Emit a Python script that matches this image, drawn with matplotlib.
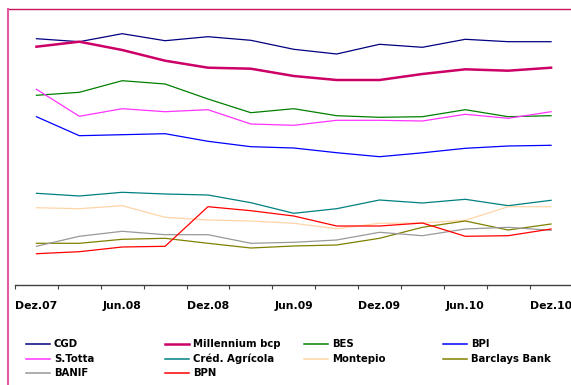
import matplotlib
matplotlib.use("Agg")
import matplotlib.pyplot as plt
from matplotlib.lines import Line2D

periods = ["Dez.07", "Mar.08", "Jun.08", "Set.08", "Dez.08", "Mar.09", "Jun.09",
           "Set.09", "Dez.09", "Mar.10", "Jun.10", "Set.10", "Dez.10"]

names = ["CGD", "Millennium bcp", "BES", "BPI",
         "S.Totta", "Créd. Agrícola", "Montepio", "Barclays Bank",
         "BANIF", "BPN"]

cgd        = [24.63, 24.33, 25.13, 24.43, 24.83, 24.47, 23.57, 23.10, 24.07, 23.77, 24.57, 24.33, 24.33]
millennium = [23.83, 24.33, 23.50, 22.43, 21.73, 21.63, 20.90, 20.50, 20.50, 21.10, 21.57, 21.43, 21.73]
bes        = [18.97, 19.27, 20.43, 20.10, 18.60, 17.23, 17.63, 16.93, 16.77, 16.83, 17.53, 16.83, 16.93]
bpi        = [16.83, 14.93, 15.03, 15.13, 14.37, 13.83, 13.70, 13.23, 12.83, 13.22, 13.67, 13.90, 13.97]
stotta     = [19.57, 16.87, 17.63, 17.33, 17.53, 16.10, 15.97, 16.47, 16.47, 16.40, 17.07, 16.67, 17.33]
credagr    = [9.17, 8.90, 9.27, 9.10, 9.00, 8.23, 7.17, 7.63, 8.50, 8.20, 8.57, 7.93, 8.47]
montepio   = [7.73, 7.63, 7.93, 6.77, 6.50, 6.40, 6.17, 5.63, 6.17, 6.20, 6.47, 7.83, 7.83]
barclays   = [4.17, 4.17, 4.57, 4.67, 4.17, 3.70, 3.90, 4.00, 4.67, 5.77, 6.40, 5.50, 6.10]
banif      = [3.87, 4.87, 5.37, 5.03, 5.03, 4.17, 4.27, 4.50, 5.27, 4.93, 5.60, 5.77, 5.47]
bpn        = [3.13, 3.33, 3.80, 3.87, 7.83, 7.43, 6.90, 5.90, 5.90, 6.20, 4.87, 4.93, 5.60]

series = [cgd, millennium, bes, bpi, stotta, credagr, montepio, barclays, banif, bpn]
colors = ["#000080", "#CC0066", "#008000", "#0000FF", "#FF33FF",
          "#008080", "#FFD5A8", "#808000", "#999999", "#FF0000"]
widths = [0.9, 1.8, 0.9, 0.9, 0.9, 0.9, 0.9, 0.9, 0.9, 0.9]

W, H = 571, 385
fig = plt.figure(figsize=(W / 100, H / 100), dpi=100)
fig.patch.set_facecolor("white")

# axes: x 15..572.5 px, y 9..285 px (from top)
left = 15 / W
width = 557.5 / W
bottom = (H - 285) / H
height = 276 / H
ax = fig.add_axes([left, bottom, width, height])
ax.set_facecolor("none")

x = list(range(len(periods)))
for vals, c, lw in zip(series, colors, widths):
    ax.plot(x, vals, color=c, lw=lw, solid_joinstyle="round")

ax.set_xlim(-0.5, len(periods) - 0.5)
ax.set_ylim(0, 27.6)
for s in ["top", "right", "left"]:
    ax.spines[s].set_visible(False)
ax.spines["bottom"].set_color("#404040")
ax.spines["bottom"].set_linewidth(1.0)
ax.set_yticks([])

ax.set_xticks(x[::2])
ax.set_xticklabels(periods[::2], fontsize=7.8, fontweight="bold", color="black")
ax.set_xticks([i - 0.5 for i in range(len(periods) + 1)], minor=True)
ax.tick_params(axis="x", which="major", length=0, pad=11.5)
ax.tick_params(axis="x", which="minor", length=3, width=0.8, color="#404040", direction="out")

# figure border (top & left)
fig.add_artist(Line2D([8 / W, 1.0], [1 - 9 / H, 1 - 9 / H], transform=fig.transFigure,
                      color="#C8175D", lw=1.0))
fig.add_artist(Line2D([8 / W, 8 / W], [0, 1 - 9 / H], transform=fig.transFigure,
                      color="#E65AA0", lw=1.5))

# legend, drawn in figure pixel positions
col_x = [26, 165, 304, 443]
row_y = [344, 358.5, 372.5]
for i, (name, c, lw) in enumerate(zip(names, colors, widths)):
    cx = col_x[i % 4]
    cy = row_y[i // 4]
    fy = 1 - cy / H
    fig.add_artist(Line2D([cx / W, (cx + 24) / W], [fy, fy], transform=fig.transFigure,
                          color=c, lw=max(lw, 1.1)))
    fig.text((cx + 28) / W, fy, name, fontsize=7.3, fontweight="bold",
             va="center", ha="left", color="black")

fig.savefig("out.png", dpi=100)
